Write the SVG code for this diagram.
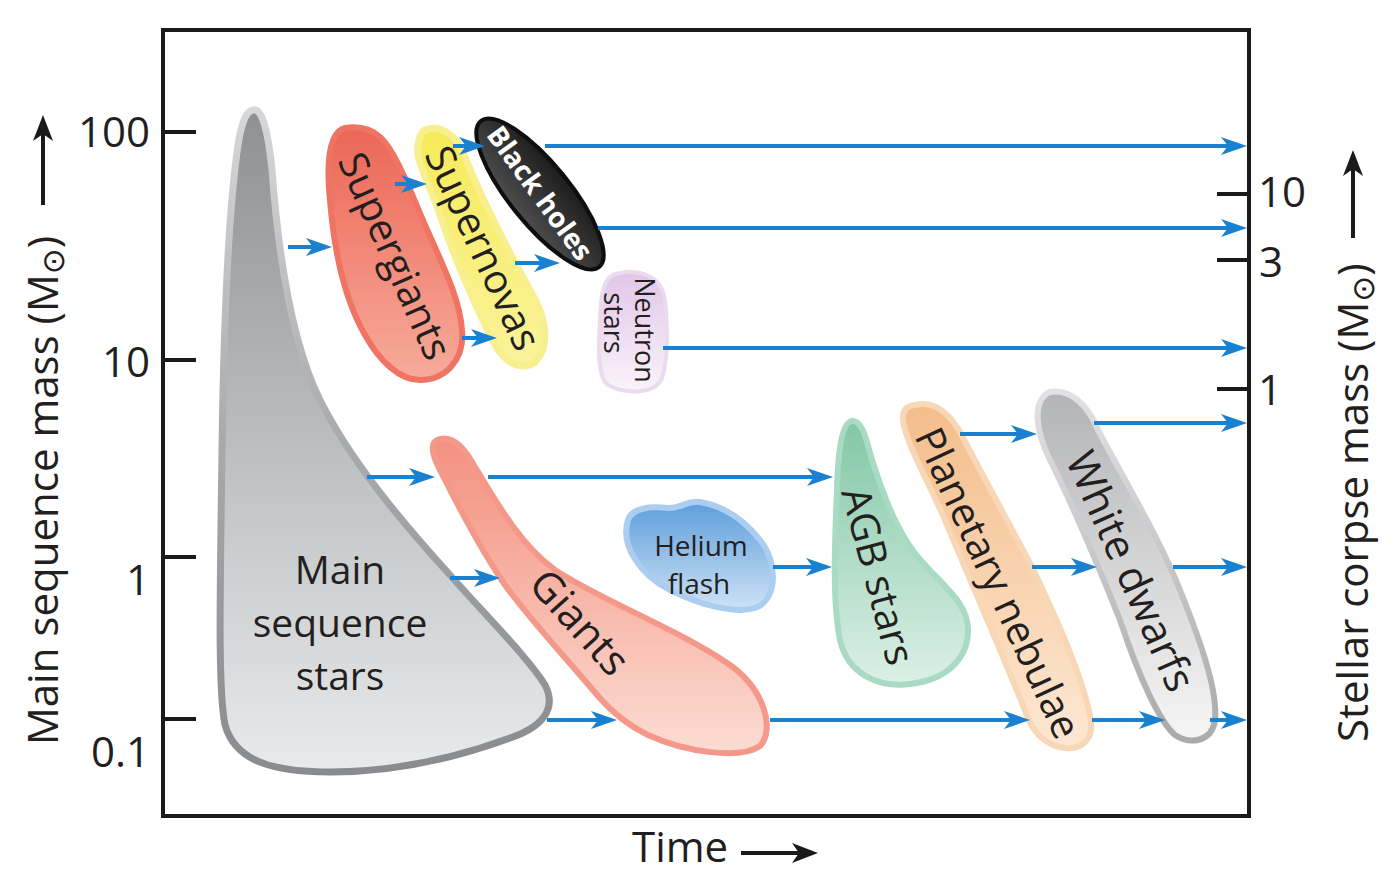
<svg xmlns="http://www.w3.org/2000/svg" width="1400" height="892" viewBox="0 0 1400 892">
<style>
.lbl{font-family:"Open Sans","Liberation Sans",sans-serif;fill:#231f20;text-anchor:middle}
.ax{font-family:"Open Sans","Liberation Sans",sans-serif;fill:#231f20;font-size:42px}
.conn{stroke:#1a80d0;stroke-width:4;fill:none;marker-end:url(#ah)}
.tick{stroke:#1a1a1a;stroke-width:4}
</style>
<defs>
<marker id="ah" viewBox="0 0 26 18" refX="14" refY="9" markerWidth="26" markerHeight="18" markerUnits="userSpaceOnUse" orient="auto"><path d="M0,0 L26,9 L0,18 L7,9 Z" fill="#1a80d0"/></marker>
<marker id="bh" viewBox="0 0 26 20" refX="14" refY="10" markerWidth="26" markerHeight="20" markerUnits="userSpaceOnUse" orient="auto"><path d="M0,0 L26,10 L0,20 L7,10 Z" fill="#1a1a1a"/></marker>
<linearGradient id="gMS" x1="0" y1="0" x2="0" y2="1"><stop offset="0" stop-color="#8e9093"/><stop offset="1" stop-color="#e9eaeb"/></linearGradient>
<linearGradient id="sMS" x1="0" y1="0" x2="0" y2="1"><stop offset="0" stop-color="#d6d7d9"/><stop offset="0.5" stop-color="#a9aaad"/><stop offset="1" stop-color="#8a8b8e"/></linearGradient>
<linearGradient id="gSG" x1="0" y1="0" x2="0" y2="1"><stop offset="0" stop-color="#ec6656"/><stop offset="1" stop-color="#f7ab9b"/></linearGradient>
<linearGradient id="gSN" x1="0" y1="0" x2="0" y2="1"><stop offset="0" stop-color="#f6ea58"/><stop offset="1" stop-color="#fbf39c"/></linearGradient>
<linearGradient id="gBH" x1="0" y1="0" x2="0" y2="1"><stop offset="0" stop-color="#1c1c1c"/><stop offset="1" stop-color="#4d4d4d"/></linearGradient>
<linearGradient id="gNS" x1="0" y1="0" x2="0" y2="1"><stop offset="0" stop-color="#e2c6e8"/><stop offset="1" stop-color="#faf3fa"/></linearGradient>
<linearGradient id="gHF" x1="0" y1="0" x2="0" y2="1"><stop offset="0" stop-color="#5d9edc"/><stop offset="1" stop-color="#cfe2f5"/></linearGradient>
<linearGradient id="gGI" x1="0" y1="0" x2="0" y2="1"><stop offset="0" stop-color="#f3907f"/><stop offset="1" stop-color="#fcdcd2"/></linearGradient>
<linearGradient id="gAGB" x1="0" y1="0" x2="0" y2="1"><stop offset="0" stop-color="#82c7a6"/><stop offset="1" stop-color="#dcf0e6"/></linearGradient>
<linearGradient id="gPN" x1="0" y1="0" x2="0" y2="1"><stop offset="0" stop-color="#f4bd8b"/><stop offset="1" stop-color="#fde8d3"/></linearGradient>
<linearGradient id="gWD" x1="0" y1="0" x2="0" y2="1"><stop offset="0" stop-color="#b3b4b6"/><stop offset="1" stop-color="#f6f6f6"/></linearGradient>
<linearGradient id="sWD" x1="0" y1="0" x2="0" y2="1"><stop offset="0" stop-color="#e2e2e4"/><stop offset="1" stop-color="#a9aaac"/></linearGradient>
</defs>
<rect x="0" y="0" width="1400" height="892" fill="#ffffff"/>

<g id="axes">
<rect x="163" y="30" width="1086" height="786" fill="none" stroke="#1a1a1a" stroke-width="4"/>
<line class="tick" x1="163" y1="132" x2="196" y2="132"/>
<line class="tick" x1="163" y1="360" x2="196" y2="360"/>
<line class="tick" x1="163" y1="557" x2="196" y2="557"/>
<line class="tick" x1="163" y1="719" x2="196" y2="719"/>
<line class="tick" x1="1217" y1="194" x2="1249" y2="194"/>
<line class="tick" x1="1217" y1="260" x2="1249" y2="260"/>
<line class="tick" x1="1217" y1="389" x2="1249" y2="389"/>
<text class="ax" x="150" y="147" text-anchor="end">100</text>
<text class="ax" x="150" y="377" text-anchor="end">10</text>
<text class="ax" x="150" y="595" text-anchor="end">1</text>
<text class="ax" x="150" y="767" text-anchor="end">0.1</text>
<text class="ax" x="1258" y="207">10</text>
<text class="ax" x="1259" y="277">3</text>
<text class="ax" x="1258" y="405">1</text>
<text class="ax" transform="translate(58,745) rotate(-90)">Main sequence mass (M<tspan font-family="DejaVu Sans" font-size="31" dy="6">⊙</tspan><tspan dy="-6">)</tspan></text>
<line x1="43" y1="205" x2="43" y2="127" stroke="#1a1a1a" stroke-width="4" marker-end="url(#bh)"/>
<text class="ax" transform="translate(1368,742) rotate(-90)">Stellar corpse mass (M<tspan font-family="DejaVu Sans" font-size="31" dy="6">⊙</tspan><tspan dy="-6">)</tspan></text>
<line x1="1353" y1="238" x2="1353" y2="162" stroke="#1a1a1a" stroke-width="4" marker-end="url(#bh)"/>
<text class="ax" x="632" y="862">Time</text>
<line x1="741" y1="853" x2="806" y2="853" stroke="#1a1a1a" stroke-width="4" marker-end="url(#bh)"/>
</g>

<g id="main-sequence">
<path d="M253,110 C262,108 268,130 272,170 C278,250 290,340 320,400 C350,460 400,520 450,575 C490,620 530,660 545,685 C558,710 540,728 510,738 C450,760 390,772 330,772 C270,772 235,760 225,725 C218,690 220,600 222,450 C224,300 230,200 238,145 C242,120 247,111 253,110 Z" fill="url(#gMS)" stroke="url(#sMS)" stroke-width="7"/>
<text class="lbl" font-size="39" x="340" y="584">Main</text>
<text class="lbl" font-size="39" x="340" y="637">sequence</text>
<text class="lbl" font-size="39" x="340" y="690">stars</text>
</g>

<g id="supergiants">
<path d="M345,128 C330,132 326,160 330,200 C334,250 345,300 365,335 C380,362 400,380 420,380 C445,380 465,360 462,330 C460,300 445,270 425,225 C410,190 395,150 380,137 C370,128 358,126 345,128 Z" fill="url(#gSG)" stroke="#ef7463" stroke-width="6"/>
<text class="lbl" font-size="40" transform="translate(395,256) rotate(66)" y="14">Supergiants</text>
</g>

<g id="supernovas">
<path d="M425,130 C440,124 455,135 462,150 C480,195 505,245 530,290 C545,315 552,345 535,362 C520,372 505,362 495,345 C475,305 455,260 440,215 C430,185 415,160 418,145 C419,137 421,132 425,130 Z" fill="url(#gSN)" stroke="#f8f08e" stroke-width="7"/>
<text class="lbl" font-size="40" transform="translate(483,248) rotate(65)" y="14">Supernovas</text>
</g>

<g id="black-holes">
<ellipse cx="540" cy="194" rx="94" ry="30" transform="rotate(51 540 194)" fill="url(#gBH)" stroke="#0e0e0e" stroke-width="4"/>
<text class="lbl" font-size="28" font-weight="bold" style="fill:#ffffff" transform="translate(540,193) rotate(54)" y="10">Black holes</text>
</g>

<g id="neutron-stars">
<path d="M615,274 C640,268 662,276 665,300 C668,330 668,360 662,378 C655,395 625,394 608,385 C598,378 598,350 600,320 C601,295 603,278 615,274 Z" fill="url(#gNS)" stroke="#ebdbef" stroke-width="4"/>
<text class="lbl" font-size="27" transform="translate(645,330) rotate(90)" y="10">Neutron</text>
<text class="lbl" font-size="27" transform="translate(614,323) rotate(90)" y="10">stars</text>
</g>

<g id="helium-flash">
<path d="M628,520 C632,508 650,506 668,508 C680,509 688,500 700,502 C718,505 740,515 760,540 C778,562 778,600 755,608 C735,614 700,605 670,590 C640,575 620,545 628,520 Z" fill="url(#gHF)" stroke="#abcdef" stroke-width="6"/>
<text class="lbl" font-size="28" x="701" y="556">Helium</text>
<text class="lbl" font-size="28" x="699" y="594">flash</text>
</g>

<g id="giants">
<path d="M437,440 C450,435 462,445 472,462 C495,500 520,545 555,570 C600,600 680,630 730,665 C765,690 775,730 760,746 C740,760 685,752 648,735 C625,724 610,710 598,696 C568,660 530,620 505,585 C480,548 455,500 440,470 C432,455 430,444 437,440 Z" fill="url(#gGI)" stroke="#f4998a" stroke-width="6"/>
<text class="lbl" font-size="42" transform="translate(580,622) rotate(48)" y="15">Giants</text>
</g>

<g id="agb-stars">
<path d="M852,421 C842,423 838,450 837,490 C835,540 832,600 840,640 C848,675 880,688 910,684 C945,680 968,660 968,630 C968,605 948,590 925,565 C900,540 885,500 872,460 C866,438 862,420 852,421 Z" fill="url(#gAGB)" stroke="#a9dac3" stroke-width="6"/>
<text class="lbl" font-size="40" transform="translate(878,576) rotate(75)" y="14">AGB stars</text>
</g>

<g id="planetary-nebulae">
<path d="M915,405 C935,400 950,415 960,432 C985,480 1010,525 1032,567 C1055,615 1080,670 1090,715 C1096,740 1080,750 1065,748 C1048,746 1035,735 1028,718 C1005,660 970,580 945,520 C925,475 905,440 903,420 C902,410 907,406 915,405 Z" fill="url(#gPN)" stroke="#f8d7b6" stroke-width="6"/>
<text class="lbl" font-size="40" transform="translate(998,583) rotate(65)" y="14">Planetary nebulae</text>
</g>

<g id="white-dwarfs">
<path d="M1050,392 C1070,388 1088,405 1098,430 C1130,490 1160,540 1180,590 C1200,640 1218,690 1215,720 C1212,742 1190,745 1175,735 C1160,722 1140,680 1120,620 C1100,570 1075,510 1050,460 C1035,430 1032,400 1050,392 Z" fill="url(#gWD)" stroke="url(#sWD)" stroke-width="6"/>
<text class="lbl" font-size="42" transform="translate(1131,571) rotate(66)" y="15">White dwarfs</text>
</g>

<g id="connectors">
<line class="conn" x1="545" y1="146" x2="1235" y2="146"/>
<line class="conn" x1="598" y1="228" x2="1235" y2="228"/>
<line class="conn" x1="663" y1="348" x2="1235" y2="348"/>
<line class="conn" x1="1094" y1="423" x2="1235" y2="423"/>
<line class="conn" x1="1173" y1="567" x2="1235" y2="567"/>
<line class="conn" x1="1210" y1="720" x2="1235" y2="720"/>
<line class="conn" x1="288" y1="247" x2="320" y2="247"/>
<line class="conn" x1="395" y1="184" x2="415" y2="184"/>
<line class="conn" x1="453" y1="146" x2="473" y2="146"/>
<line class="conn" x1="515" y1="263" x2="548" y2="263"/>
<line class="conn" x1="462" y1="338" x2="485" y2="338"/>
<line class="conn" x1="367" y1="477" x2="423" y2="477"/>
<line class="conn" x1="488" y1="477" x2="821" y2="477"/>
<line class="conn" x1="450" y1="578" x2="488" y2="578"/>
<line class="conn" x1="773" y1="567" x2="820" y2="567"/>
<line class="conn" x1="547" y1="720" x2="605" y2="720"/>
<line class="conn" x1="770" y1="720" x2="1018" y2="720"/>
<line class="conn" x1="1092" y1="720" x2="1153" y2="720"/>
<line class="conn" x1="960" y1="434" x2="1025" y2="434"/>
<line class="conn" x1="1032" y1="567" x2="1085" y2="567"/>
</g>
</svg>
